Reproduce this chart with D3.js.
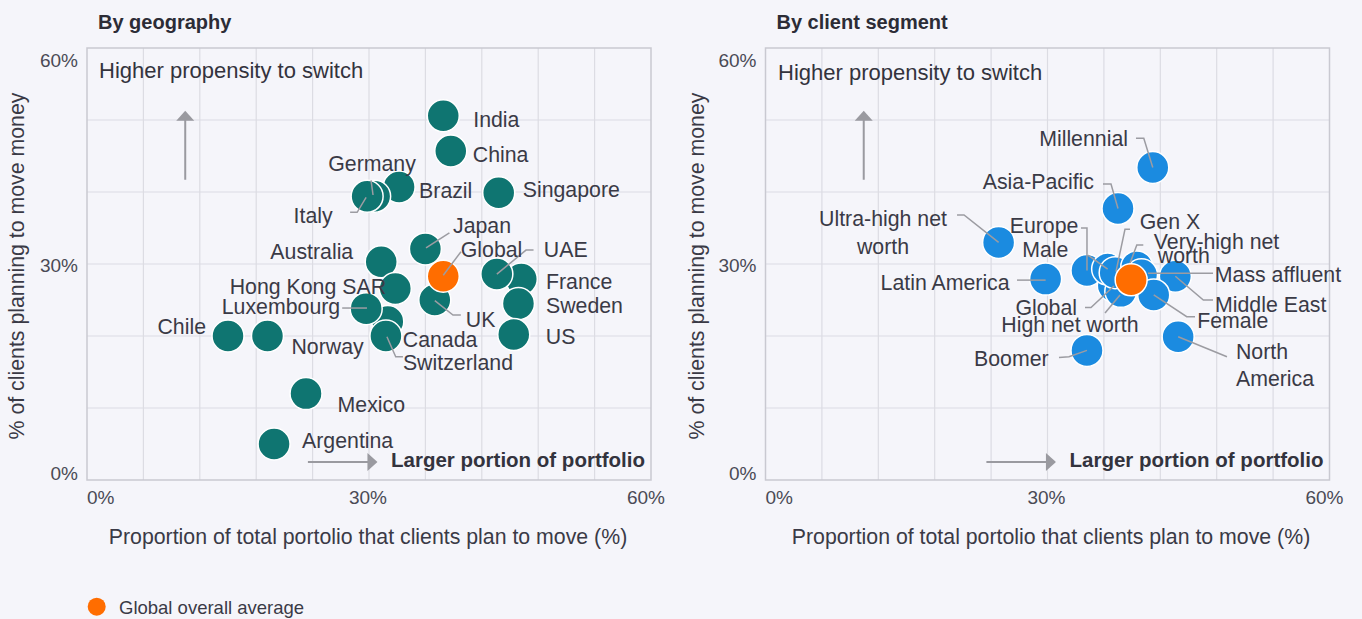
<!DOCTYPE html>
<html><head><meta charset="utf-8">
<script src="https://cdn.jsdelivr.net/npm/d3@7"></script>
<style>
body{margin:0;background:#f5f5fa;}
svg{display:block;font-family:"Liberation Sans",Arial,sans-serif;}
</style>
</head><body>
<svg id="c" width="1362" height="619"></svg>
<script>
// ---------- DATA ----------
const geoNames = ["Brazil","Germany","Italy","India","China","Singapore","Japan","Australia","Canada","Hong Kong SAR","Luxembourg","Switzerland","UK","France","UAE","Sweden","US","Chile","Norway","Mexico","Argentina"];
const geoX = [33.2,30.6,29.8,37.9,38.7,43.8,36.0,31.3,32.0,32.8,29.7,31.8,37.0,46.2,43.6,45.9,45.4,15.0,19.2,23.3,19.9];
const geoY = [40.7,39.4,39.4,50.6,45.7,39.9,32.1,30.3,22.0,26.6,23.8,20.0,25.0,27.9,28.6,24.5,20.2,20.0,20.0,12.0,5.0];

const segNames = ["Ultra-high net worth","Latin America","Boomer","North America","Millennial","Asia-Pacific","Europe","Global","High net worth","Male","Gen X","Very-high net worth","Mass affluent","Middle East","Female"];
const segX = [24.8,29.8,34.2,43.9,41.2,37.5,34.2,37.0,37.8,36.4,37.2,39.5,40.0,43.6,41.3];
const segY = [33.0,27.9,18.0,19.9,43.4,37.7,29.1,27.0,26.2,29.3,28.8,29.6,28.5,28.3,25.7];

const globalAvgX = [37.9, 38.9];   // [geography panel, client segment panel]
const globalAvgY = [28.3, 27.8];

const tickValues = [0, 30, 60];
const tickLabels = ["0%", "30%", "60%"];
const panelTitles = ["By geography", "By client segment"];
const yTitle = "% of clients planning to move money";
const xTitle = "Proportion of total portolio that clients plan to move (%)";
const legendLabel = "Global overall average";

// ---------- LAYOUT (label offsets in px, relative to point) ----------
const geoLayout = {
  "India":{a:"start",dx:30,dy:[4]},
  "China":{a:"start",dx:22,dy:[4]},
  "Germany":{a:"middle",dx:-2.6,dy:[-32],leader:[[-3.6,-16],[-1.6,-1.3]]},
  "Brazil":{a:"start",dx:20,dy:[4]},
  "Singapore":{a:"start",dx:24,dy:[-3]},
  "Italy":{a:"end",dx:-34.5,dy:[20],leader:[[-17,16],[-10,16],[-1,1]]},
  "Japan":{a:"start",dx:27.6,dy:[-23],leader:[[24,-16],[0.6,-1]]},
  "UAE":{a:"start",dx:47,dy:[-24],leader:[[36.7,-24],[29.2,-24],[0,0]]},
  "France":{a:"start",dx:24.7,dy:[3]},
  "Sweden":{a:"start",dx:27.5,dy:[2]},
  "US":{a:"start",dx:32,dy:[2.5]},
  "Australia":{a:"end",dx:-28,dy:[-9.5]},
  "Hong Kong SAR":{a:"end",dx:-9.3,dy:[-1]},
  "Luxembourg":{a:"end",dx:-26,dy:[-2],leader:[[-24,-0.6],[0.8,-0.6]]},
  "Chile":{a:"end",dx:-22,dy:[-9]},
  "Norway":{a:"start",dx:24,dy:[10.7]},
  "Canada":{a:"start",dx:15,dy:[18]},
  "Switzerland":{a:"start",dx:17,dy:[26.7],leader:[[17,20.7],[9.8,20.7],[1,0.7]]},
  "UK":{a:"start",dx:31,dy:[20],leader:[[26,15],[18.2,15],[0,0.7]]},
  "Mexico":{a:"start",dx:31.6,dy:[11.4]},
  "Argentina":{a:"start",dx:28,dy:[-3]}
};
const geoGlobalLayout = {text:"Global",a:"start",dx:17.5,dy:[-26],leader:[[17.7,-24.5],[0,-1]]};

const segLayout = {
  "Millennial":{a:"end",dx:-24.8,dy:[-28.5],leader:[[-16.8,-29.2],[-9,-29.2],[0,0]]},
  "Asia-Pacific":{a:"end",dx:-24,dy:[-27],leader:[[-15,-24.6],[-7,-24.6],[0,0]]},
  "Ultra-high net worth":{a:"middle",dx:-115.6,dy:[-23.4,4.3],lines:["Ultra-high net","worth"],leader:[[-41.6,-27.4],[-34.6,-27.4],[0,0]]},
  "Europe":{a:"end",dx:-8.6,dy:[-44.8],leader:[[-6,-42.5],[0,-42.5],[0,0]]},
  "Male":{a:"end",dx:-39.2,dy:[-19],leader:[[-19.7,-14],[0,0]]},
  "Gen X":{a:"start",dx:24.6,dy:[-51],leader:[[14.8,-43.3],[9.8,-43.3],[0.8,-1]]},
  "Very-high net worth":{a:"start",dx:[17,21],dy:[-25,-10.5],lines:["Very-high net","worth"],leader:[[6.5,-22],[0,-22],[-7,-3]]},
  "Mass affluent":{a:"start",dx:73.3,dy:[0],leader:[[71.5,-1.5],[6.5,-1.5]]},
  "Middle East":{a:"start",dx:39.7,dy:[28.3],leader:[[37.7,23.8],[28,23.8],[0,0]]},
  "Female":{a:"start",dx:43.5,dy:[25.7],leader:[[41.3,21.7],[33,21.7],[0,0]]},
  "North America":{a:"start",dx:57.8,dy:[15.6,42.3],lines:["North","America"],leader:[[48.8,20],[0,0]]},
  "Latin America":{a:"end",dx:-36,dy:[4.2],leader:[[-28.6,1],[0,1]]},
  "Global":{a:"end",dx:-36.3,dy:[22.2],leader:[[-28.3,22],[-22.3,22],[0.7,0.4]]},
  "High net worth":{a:"end",dx:17.8,dy:[34],leader:[[-15.8,21.6],[-0.8,3.6]]},
  "Boomer":{a:"end",dx:-38.4,dy:[9],leader:[[-28,7],[-18,6.3],[0,0]]}
};

// ---------- STYLE ----------
const C = {teal:"#0f7571", blue:"#1b8be0", orange:"#ff6d00", text:"#3a3a46", tick:"#4a4a55",
           grid:"#dcdce3", border:"#c9c9d1", leader:"#9c9ca2", arrow:"#9a9aa0"};
const R = 16;
const FS = {label:21.3, tick:19, title:20, axis:21.3, note:22, bold:20.5, legend:18.5};

const svg = d3.select("#c");
svg.append("rect").attr("width",1362).attr("height",619).attr("fill","#f5f5fa");

const panels = [
  {x0:87, x1:651, names:geoNames, xs:geoX, ys:geoY, color:C.teal, layout:geoLayout, gl:geoGlobalLayout, hx:99, hy:70, ytx:24, xtx:368},
  {x0:765.5, x1:1329.5, names:segNames, xs:segX, ys:segY, color:C.blue, layout:segLayout, gl:null, hx:778, hy:72, ytx:704, xtx:1051}
];

function drawLabel(g, px, py, L, name, fsize){
  const lines = L.lines || [L.text || name];
  lines.forEach((ln,i)=>{
    const dx = Array.isArray(L.dx) ? L.dx[i] : L.dx;
    g.append("text").attr("x",px+dx).attr("y",py+L.dy[i])
      .attr("text-anchor",L.a).attr("dominant-baseline","central")
      .attr("font-size",fsize).attr("fill",C.text).text(ln);
  });
}
function drawLeader(g, px, py, L){
  if(!L.leader) return;
  g.append("path").attr("d", d3.line()(L.leader.map(p=>[px+p[0],py+p[1]])))
    .attr("fill","none").attr("stroke",C.leader).attr("stroke-width",1.5);
}

panels.forEach((P,pi)=>{
  const x = d3.scaleLinear().domain([0,60]).range([P.x0,P.x1]);
  const y = d3.scaleLinear().domain([0,60]).range([480,48]);
  const g = svg.append("g");

  // grid
  g.append("g").selectAll("line").data(d3.range(6,60,6)).join("line")
    .attr("x1",d=>x(d)).attr("x2",d=>x(d)).attr("y1",y(0)).attr("y2",y(60))
    .attr("stroke",C.grid).attr("stroke-width",1.2);
  g.append("g").selectAll("line").data(d3.range(10,60,10)).join("line")
    .attr("x1",x(0)).attr("x2",x(60)).attr("y1",d=>y(d)).attr("y2",d=>y(d))
    .attr("stroke",C.grid).attr("stroke-width",1.2);
  g.append("rect").attr("x",x(0)).attr("y",y(60)).attr("width",x(60)-x(0)).attr("height",y(0)-y(60))
    .attr("fill","none").attr("stroke",C.border).attr("stroke-width",1.5);

  // tick labels
  const yLabOff = [-7, 1, 12];
  g.append("g").selectAll("text").data(tickValues).join("text")
    .attr("x",x(0)-9).attr("y",(d,i)=>y(d)+yLabOff[i]).attr("text-anchor","end")
    .attr("dominant-baseline","central").attr("font-size",FS.tick).attr("fill",C.tick)
    .text((d,i)=>tickLabels[i]);
  const xAnch = ["start","middle","end"], xOff=[0,-1,14];
  g.append("g").selectAll("text").data(tickValues).join("text")
    .attr("x",(d,i)=>x(d)+xOff[i]).attr("y",497).attr("text-anchor",(d,i)=>xAnch[i])
    .attr("dominant-baseline","central").attr("font-size",FS.tick).attr("fill",C.tick)
    .text((d,i)=>tickLabels[i]);

  // titles
  g.append("text").attr("x",P.x0+11).attr("y",22).attr("dominant-baseline","central")
    .attr("font-size",FS.title).attr("font-weight","bold").attr("fill","#2c2c36").text(panelTitles[pi]);
  g.append("text").attr("transform",`translate(${P.ytx},266) rotate(-90)`).attr("text-anchor","middle")
    .attr("font-size",FS.axis).attr("fill",C.text).text(yTitle);
  g.append("text").attr("x",P.xtx).attr("y",537).attr("text-anchor","middle").attr("dominant-baseline","central")
    .attr("font-size",FS.axis).attr("fill",C.text).text(xTitle);

  // annotations
  g.append("text").attr("x",P.hx).attr("y",P.hy).attr("dominant-baseline","central")
    .attr("font-size",FS.note).attr("fill","#33333d").text("Higher propensity to switch");
  g.append("text").attr("x",x(60)-6).attr("y",459).attr("text-anchor","end").attr("dominant-baseline","central")
    .attr("font-size",FS.bold).attr("font-weight","bold").attr("fill","#33333d").text("Larger portion of portfolio");
  // up arrow
  const ax = x(10.45), ayTop = y(51.3), ayBot = y(41.7);
  g.append("line").attr("x1",ax).attr("x2",ax).attr("y1",ayBot).attr("y2",ayTop+9)
    .attr("stroke",C.arrow).attr("stroke-width",2);
  g.append("path").attr("d",`M${ax},${ayTop} L${ax-9},${ayTop+10} L${ax+9},${ayTop+10} Z`).attr("fill",C.arrow);
  // right arrow
  const rxL = x(23.5), rxR = x(30.9), ry = y(2.5);
  g.append("line").attr("x1",rxL).attr("x2",rxR-9).attr("y1",ry).attr("y2",ry)
    .attr("stroke",C.arrow).attr("stroke-width",2);
  g.append("path").attr("d",`M${rxR},${ry} L${rxR-10},${ry-9} L${rxR-10},${ry+9} Z`).attr("fill",C.arrow);

  // points
  const data = P.names.map((n,i)=>({n, x:P.xs[i], y:P.ys[i]}));
  g.append("g").selectAll("circle").data(data).join("circle")
    .attr("cx",d=>x(d.x)).attr("cy",d=>y(d.y)).attr("r",R)
    .attr("fill",P.color).attr("stroke","#ffffff").attr("stroke-width",1.5);
  const lg = g.append("g");
  data.forEach(d=>{ const L=P.layout[d.n]; if(L) drawLeader(lg, x(d.x), y(d.y), L); });
  // global average
  const gx = x(globalAvgX[pi]), gy = y(globalAvgY[pi]);
  g.append("circle").attr("cx",gx).attr("cy",gy).attr("r",R)
    .attr("fill",C.orange).attr("stroke","#ffffff").attr("stroke-width",1.5);
  if(P.gl) drawLeader(g, gx, gy, P.gl);
  const tg = g.append("g");
  data.forEach(d=>{ const L=P.layout[d.n]; if(L) drawLabel(tg, x(d.x), y(d.y), L, d.n, FS.label); });
  if(P.gl) drawLabel(tg, gx, gy, P.gl, "Global", FS.label);
});

// legend
svg.append("circle").attr("cx",96.7).attr("cy",606.7).attr("r",9).attr("fill",C.orange);
svg.append("text").attr("x",119).attr("y",607).attr("dominant-baseline","central")
  .attr("font-size",FS.legend).attr("fill",C.text).text(legendLabel);
</script>
</body></html>
